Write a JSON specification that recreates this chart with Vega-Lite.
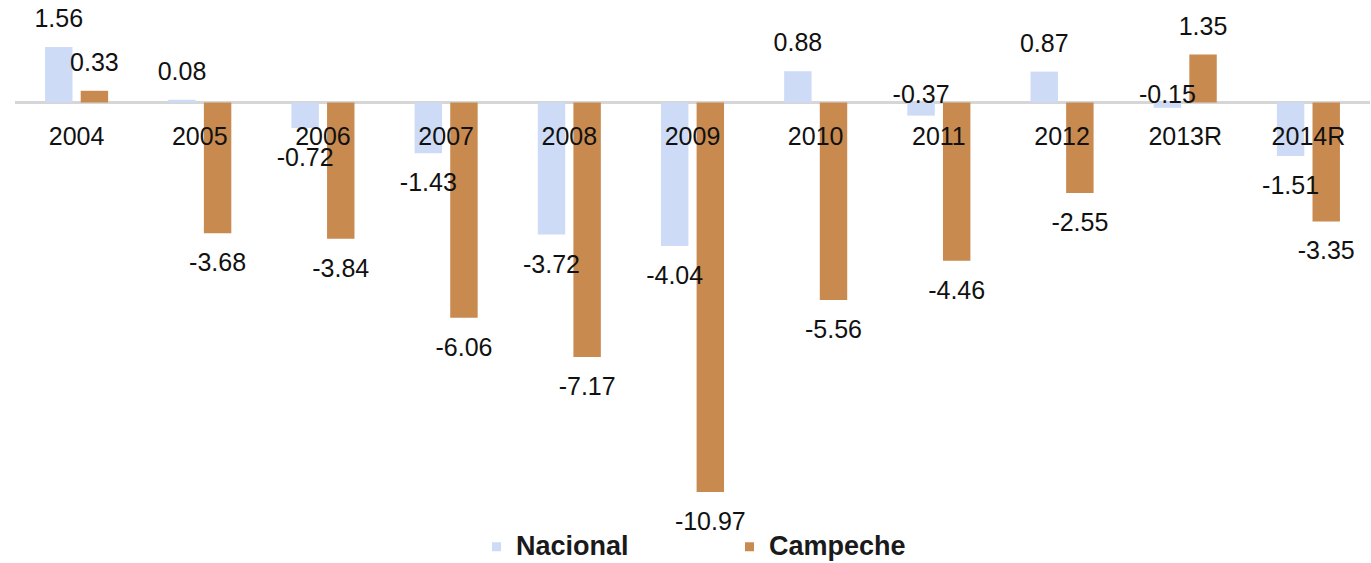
{
  "$schema": "https://vega.github.io/schema/vega-lite/v6.json",
  "width": 1355,
  "height": 563,
  "autosize": {"type": "none"},
  "padding": {"left": 15, "top": 0, "right": 1, "bottom": 0},
  "background": "white",
  "config": {
    "view": {"stroke": null},
    "font": "Liberation Sans",
    "locale": {"number": {"decimal": ".", "thousands": ",", "grouping": [3], "currency": ["$", ""], "minus": "-"}}
  },
  "data": {"values": [
    {"year": "2004", "serie": "Nacional", "value": 1.56},
    {"year": "2005", "serie": "Nacional", "value": 0.08},
    {"year": "2006", "serie": "Nacional", "value": -0.72},
    {"year": "2007", "serie": "Nacional", "value": -1.43},
    {"year": "2008", "serie": "Nacional", "value": -3.72},
    {"year": "2009", "serie": "Nacional", "value": -4.04},
    {"year": "2010", "serie": "Nacional", "value": 0.88},
    {"year": "2011", "serie": "Nacional", "value": -0.37},
    {"year": "2012", "serie": "Nacional", "value": 0.87},
    {"year": "2013R", "serie": "Nacional", "value": -0.15},
    {"year": "2014R", "serie": "Nacional", "value": -1.51},
    {"year": "2004", "serie": "Campeche", "value": 0.33},
    {"year": "2005", "serie": "Campeche", "value": -3.68},
    {"year": "2006", "serie": "Campeche", "value": -3.84},
    {"year": "2007", "serie": "Campeche", "value": -6.06},
    {"year": "2008", "serie": "Campeche", "value": -7.17},
    {"year": "2009", "serie": "Campeche", "value": -10.97},
    {"year": "2010", "serie": "Campeche", "value": -5.56},
    {"year": "2011", "serie": "Campeche", "value": -4.46},
    {"year": "2012", "serie": "Campeche", "value": -2.55},
    {"year": "2013R", "serie": "Campeche", "value": 1.35},
    {"year": "2014R", "serie": "Campeche", "value": -3.35}
  ]},
  "encoding": {
    "x": {"field": "year", "type": "nominal", "sort": null, "axis": null,
          "scale": {"paddingInner": 0.488, "paddingOuter": 0.244}},
    "y": {"field": "value", "type": "quantitative", "axis": null,
          "scale": {"domain": [-12.97, 2.887], "nice": false, "zero": false}}
  },
  "layer": [
    {
      "mark": {"type": "rule", "color": "#d6d6d6", "strokeWidth": 2},
      "encoding": {"x": null, "y": {"datum": 0}}
    },
    {
      "mark": {"type": "bar"},
      "encoding": {
        "xOffset": {"field": "serie", "type": "nominal", "sort": ["Nacional", "Campeche"],
                    "scale": {"paddingInner": 0.23, "paddingOuter": 0}},
        "color": {"field": "serie", "type": "nominal",
                  "scale": {"domain": ["Nacional", "Campeche"], "range": ["#cddbf6", "#c98a50"]},
                  "legend": {"title": null, "orient": "none", "legendX": 468, "legendY": 533,
                             "direction": "horizontal", "symbolType": "square", "symbolSize": 81,
                             "symbolStrokeWidth": 0, "labelFont": "Liberation Sans", "labelFontWeight": "bold",
                             "labelFontSize": 27, "labelColor": "#1a1a1a", "labelOffset": 6,
                             "columnPadding": 107, "labelLimit": 300}}
      }
    },
    {
      "transform": [{"filter": "datum.value >= 0"}],
      "mark": {"type": "text", "baseline": "middle", "align": "center", "dy": -28, "fontSize": 25, "color": "#111111"},
      "encoding": {
        "xOffset": {"field": "serie", "type": "nominal", "sort": ["Nacional", "Campeche"]},
        "text": {"field": "value", "type": "quantitative", "format": ".2f"}
      }
    },
    {
      "transform": [{"filter": "datum.value <= -0.5"}],
      "mark": {"type": "text", "baseline": "middle", "align": "center", "dy": 30, "fontSize": 25, "color": "#111111"},
      "encoding": {
        "xOffset": {"field": "serie", "type": "nominal", "sort": ["Nacional", "Campeche"]},
        "text": {"field": "value", "type": "quantitative", "format": ".2f"}
      }
    },
    {
      "transform": [{"filter": "datum.value < 0 && datum.value > -0.5"}],
      "mark": {"type": "text", "baseline": "middle", "align": "center", "dy": -8, "fontSize": 25, "color": "#111111"},
      "encoding": {
        "xOffset": {"field": "serie", "type": "nominal", "sort": ["Nacional", "Campeche"]},
        "y": {"datum": 0},
        "text": {"field": "value", "type": "quantitative", "format": ".2f"}
      }
    },
    {
      "transform": [{"filter": "datum.serie == 'Nacional'"}],
      "mark": {"type": "text", "baseline": "middle", "align": "center", "dy": 34, "fontSize": 25, "color": "#111111"},
      "encoding": {
        "y": {"datum": 0},
        "text": {"field": "year", "type": "nominal"}
      }
    }
  ]
}
